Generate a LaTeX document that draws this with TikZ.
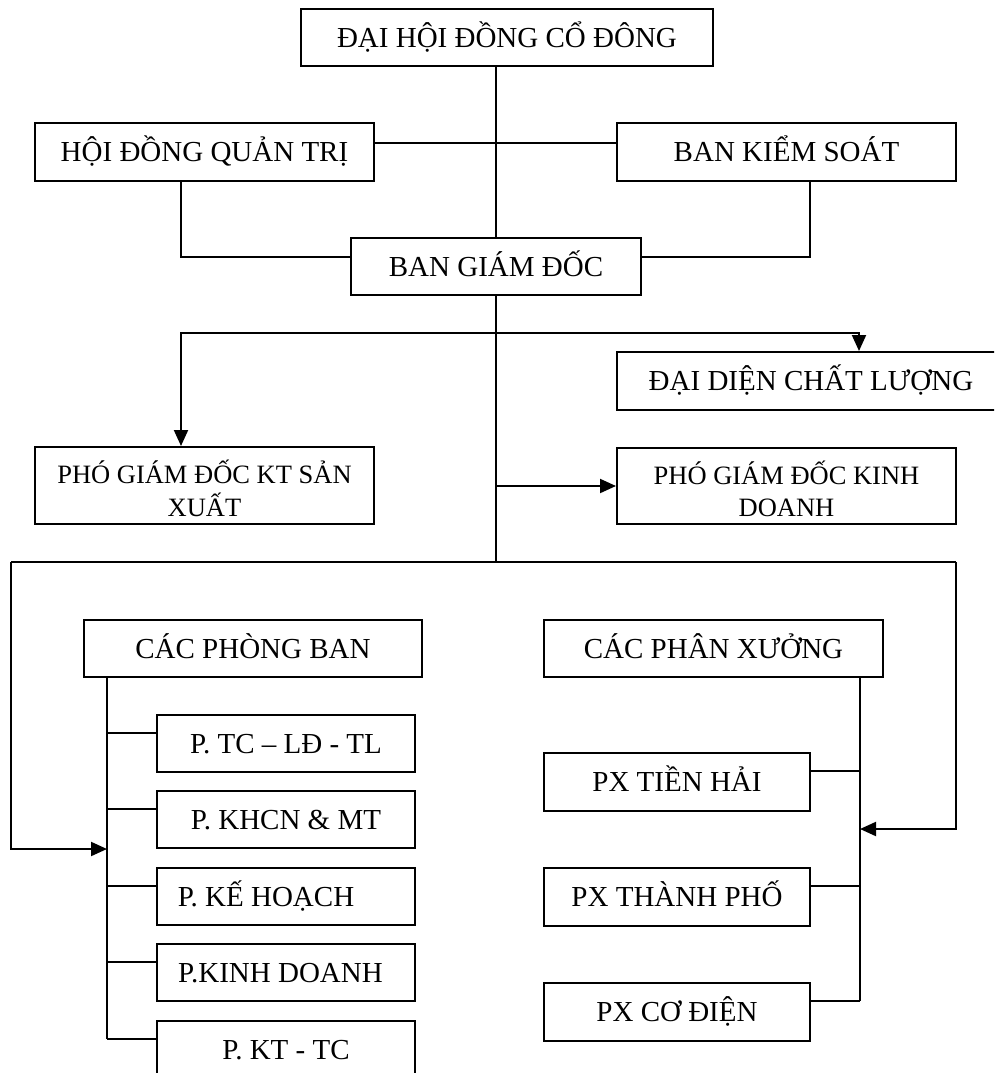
\documentclass[tikz,border=0pt]{standalone}
\usepackage{fontspec}
\setmainfont{Liberation Serif}
\usetikzlibrary{arrows.meta,calc}
\begin{document}
\begin{tikzpicture}[x=1pt,y=-1pt,
  box/.style={draw,line width=2pt,inner sep=0pt,font=\fontsize{29}{30.5}\selectfont,text height=19.2pt,text depth=0pt},
  box2/.style={draw,line width=2pt,inner sep=0pt,font=\fontsize{26.5}{32.5}\selectfont,align=center,text height=61pt,text depth=0pt},
  conn/.style={line width=2pt},
  arr/.style={line width=2pt,-{Triangle[length=16pt,width=14pt]}}]
\path[use as bounding box,clip] (0,0) rectangle (994,1073);
% nodes
\node[box,minimum width=412pt,minimum height=57pt] (top) at (507,37.5) {ĐẠI HỘI ĐỒNG CỔ ĐÔNG};
\node[box,minimum width=339pt,minimum height=58pt] (hdqt) at (204.5,152) {HỘI ĐỒNG QUẢN TRỊ};
\node[box,minimum width=339pt,minimum height=58pt] (bks) at (786.5,152) {BAN KIỂM SOÁT};
\node[box,minimum width=290pt,minimum height=57pt] (bgd) at (496,266.5) {BAN GIÁM ĐỐC};
\node[box,minimum width=388pt,minimum height=58pt] (ddcl) at (811,381) {ĐẠI DIỆN CHẤT LƯỢNG};
\node[box2,minimum width=339pt,minimum height=77pt] (pgdkt) at (204.5,485.5) {PHÓ GIÁM ĐỐC KT SẢN\\XUẤT};
\node[box2,minimum width=339pt,minimum height=76pt] (pgdkd) at (786.5,486) {PHÓ GIÁM ĐỐC KINH\\DOANH};
\node[box,minimum width=338pt,minimum height=57pt] (cpb) at (253,648.5) {CÁC PHÒNG BAN};
\node[box,minimum width=339pt,minimum height=57pt] (cpx) at (713.5,648.5) {CÁC PHÂN XƯỞNG};
\node[box,minimum width=258pt,minimum height=57pt] (p1) at (286,743.5) {P. TC – LĐ - TL};
\node[box,minimum width=258pt,minimum height=57pt] (p2) at (286,819.5) {P. KHCN \& MT};
\node[box,minimum width=258pt,minimum height=57pt] (p3) at (286,896.5) {P. KẾ HOẠCH\rule{40pt}{0pt}};
\node[box,minimum width=258pt,minimum height=57pt] (p4) at (286,972.5) {P.KINH DOANH\rule{11pt}{0pt}};
\node[box,minimum width=258pt,minimum height=57pt] (p5) at (286,1049.5) {P. KT - TC};
\node[box,minimum width=266pt,minimum height=58pt] (px1) at (677,782) {PX TIỀN HẢI};
\node[box,minimum width=266pt,minimum height=58pt] (px2) at (677,897) {PX THÀNH PHỐ};
\node[box,minimum width=266pt,minimum height=58pt] (px3) at (677,1012) {PX CƠ ĐIỆN};
% coordinates
\coordinate (khd) at (181,257);
\coordinate (kbk) at (810,257);
\coordinate (b1) at (181,333);
\coordinate (b2) at (859,333);
\coordinate (L) at (11,562);
\coordinate (R) at (956,562);
\coordinate (ra) at (0,829);
\coordinate (ls) at ([xshift=24pt]cpb.south west);
\coordinate (rs) at ([xshift=-24pt]cpx.south east);
\foreach \i in {1,...,5}{\coordinate (c\i) at ([yshift=-19pt]p\i.north west);}
\foreach \i in {1,2,3}{\coordinate (q\i) at ([yshift=-19pt]px\i.north east);}
% connectors
\draw[conn] (top.south -| bgd.north) -- (bgd.north);
\draw[conn] ([yshift=9pt]hdqt.east) -- ([yshift=9pt]bks.west);
\draw[conn] (hdqt.south -| khd) -- (khd) -- (khd -| bgd.west);
\draw[conn] (bks.south -| kbk) -- (kbk) -- (kbk -| bgd.east);
\draw[conn] (bgd.south) -- (L -| bgd.south);
\draw[arr] (b1 -| bgd.south) -| (pgdkt.north -| b1);
\draw[arr] (b1 -| bgd.south) -| (ddcl.north -| b2);
\draw[arr] (pgdkd.west -| bgd.south) -- (pgdkd.west);
\draw[conn] (L) -- (R);
\draw[arr] (L) |- (ls |- p2.south west);
\draw[arr] (R) |- (rs |- ra);
\draw[conn] (ls) -- (ls |- c5);
\foreach \i in {1,...,5}{\draw[conn] (c\i) -- (c\i -| ls);}
\draw[conn] (rs) -- (rs |- q3);
\foreach \i in {1,2,3}{\draw[conn] (q\i) -- (q\i -| rs);}
\end{tikzpicture}
\end{document}
